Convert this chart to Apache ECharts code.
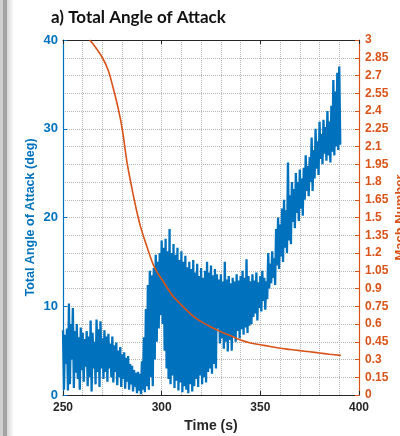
<!DOCTYPE html>
<html>
<head>
<meta charset="utf-8">
<script src="https://cdn.jsdelivr.net/npm/echarts@6/dist/echarts.min.js"></script>
<style>
html,body{margin:0;padding:0;background:#fff;}
#chart{width:400px;height:436px;}
</style>
</head>
<body>
<div id="chart"></div>
<script>
// Total angle of attack (deg): upper / lower swing per second, starting at t = 250 s
const aoaStart = 250;
const aoaHigh = [
  7.3, 6.8, 7.5, 10.3, 8.0, 9.8, 7.2, 8.0, 6.5, 7.6,
  7.0, 6.3, 7.2, 6.6, 8.4, 7.0, 6.0, 8.5, 7.4, 8.3,
  6.4, 7.3, 6.6, 6.9, 5.8, 6.6, 5.6, 5.9, 5.0, 5.4,
  4.6, 4.8, 4.2, 4.4, 3.5, 3.3, 2.8, 2.5, 2.6, 2.4,
  3.8, 6.5, 9.7, 12.4, 14.0, 13.5, 14.3, 15.8, 15.0, 16.0,
  17.4, 16.6, 17.6, 16.2, 18.7, 16.0, 17.0, 15.8, 16.6, 15.2,
  16.2, 15.0, 15.7, 14.4, 15.0, 14.2, 15.2, 13.8, 14.8, 13.4,
  14.3, 13.2, 14.0, 15.0, 13.8, 14.6, 13.5, 14.2, 13.6, 13.0,
  13.6, 12.8, 15.0, 13.0, 13.4, 12.6, 13.2, 12.8, 13.6, 12.9,
  13.4, 14.0, 13.2, 15.3, 13.4, 12.8, 13.6, 12.9, 13.8, 12.7,
  13.4, 14.0, 13.2, 12.8, 16.0, 14.8, 16.2, 15.4, 18.7, 20.0,
  19.2, 21.0, 22.0, 20.8, 26.2, 22.5, 24.0, 23.2, 25.0, 24.0,
  25.4, 24.4, 25.6, 27.0, 25.8, 26.8, 29.0, 27.6, 30.0, 28.6,
  30.8, 29.4, 31.0, 30.2, 32.0, 30.8, 32.6, 35.5, 34.2, 36.3,
  37.0
];
const aoaLow = [
  0.6, 3.5, 0.5, 1.2, 4.0, 0.8, 2.5, 1.8, 0.6, 2.8,
  1.5, 3.2, 1.0, 2.0, 0.4, 3.0, 1.2, 2.6, 0.9, 3.0,
  1.8, 2.6, 1.5, 3.0, 2.0, 1.4, 2.6, 1.1, 2.0, 0.9,
  1.8, 0.7, 1.5, 0.6, 1.2, 0.4, 0.9, 0.2, 0.5, 0.1,
  0.6, 0.3, 1.0, 0.6, 2.0, 1.0, 4.0, 6.0, 7.5, 9.0,
  8.0, 5.0, 3.0, 1.8, 1.2, 2.2, 0.8, 1.6, 0.5, 1.4,
  0.3, 1.0, 0.6, 0.2, 1.2, 0.4, 1.0, 1.8, 0.9, 2.2,
  1.2, 2.0, 1.4, 2.6, 3.0, 2.4, 3.5, 3.0, 7.5, 5.8,
  6.4, 5.2, 6.0, 4.9, 6.2, 5.0, 6.6, 6.0, 7.2, 6.4,
  7.4, 6.8, 7.6, 7.0, 7.8, 8.0, 8.8, 9.2, 8.4, 9.8,
  9.4, 10.6, 9.6, 10.8, 12.0, 12.6, 13.2, 12.4, 14.6, 14.2,
  15.6, 15.0, 16.6, 16.0, 17.4, 17.0, 19.5, 18.8, 20.5, 19.6,
  21.0, 20.2, 22.0, 23.0, 22.4, 24.0, 23.0, 24.4, 25.5, 24.8,
  26.6, 26.0, 27.2, 26.4, 27.0, 26.2, 27.4, 27.0, 28.0, 27.6,
  28.2
];
// Mach number
const machTime = [263.5, 266, 270, 273, 275.5, 278, 280, 282.5, 285, 287, 289, 291, 293, 295.5, 298, 300, 303, 306, 310, 315, 320, 325, 330, 335, 340, 345, 350, 355, 360, 365, 370, 375, 380, 385, 390.8];
const machValue = [3.0, 2.95, 2.85, 2.74, 2.59, 2.42, 2.25, 1.96, 1.74, 1.58, 1.44, 1.33, 1.23, 1.11, 1.03, 0.98, 0.9, 0.83, 0.76, 0.68, 0.62, 0.575, 0.535, 0.5, 0.465, 0.44, 0.425, 0.41, 0.395, 0.385, 0.375, 0.365, 0.355, 0.345, 0.335];
// tick labels
const timeTicks = ['250', '300', '350', '400'];
const aoaTicks = ['0', '10', '20', '30', '40'];
const machTicks = ['0', '0.15', '0.3', '0.45', '0.6', '0.75', '0.9', '1.05', '1.2', '1.35', '1.5', '1.65', '1.8', '1.95', '2.1', '2.25', '2.4', '2.55', '2.7', '2.85', '3'];

const BLUE = '#0072BD', ORANGE = '#D95319', DARK = '#262626', GRID = '#b4b4b4';
const FONT = 'Liberation Sans';

const aoaData = [];
for (let i = 0; i < aoaHigh.length; i++) {
  aoaData.push([aoaStart + i, aoaHigh[i]]);
  aoaData.push([aoaStart + i + 0.5, aoaLow[i]]);
}
const machData = machTime.map((t, i) => [t, machValue[i]]);

const chart = echarts.init(document.getElementById('chart'), null, {renderer: 'canvas'});
chart.setOption({
  animation: false,
  backgroundColor: '#ffffff',
  title: {
    text: 'a) Total Angle of Attack',
    left: 46, top: 4,
    textStyle: {fontFamily: 'Lato', fontWeight: 'bold', fontSize: 17, color: '#111'}
  },
  graphic: [
    {type: 'rect', left: 0, top: 0, shape: {width: 3, height: 436}, style: {fill: '#cfcfcf'}, silent: true},
    {type: 'rect', left: 3, top: 0, shape: {width: 4, height: 436}, style: {fill: '#a3a3a3'}, silent: true},
    {type: 'rect', left: 7, top: 0, shape: {width: 7, height: 436}, silent: true,
      style: {fill: new echarts.graphic.LinearGradient(0, 0, 1, 0, [{offset: 0, color: '#d6d6d6'}, {offset: 1, color: '#ffffff'}])}}
  ],
  grid: {left: 63, right: 41, top: 40, bottom: 41, containLabel: false, outerBoundsMode: 'none'},
  xAxis: [
    {
      type: 'value', min: 250, max: 400, interval: 50, position: 'bottom',
      axisLine: {show: true, onZero: false, lineStyle: {color: DARK, width: 1}},
      axisTick: {show: true, inside: true, length: 4, lineStyle: {color: DARK}},
      axisLabel: {color: DARK, fontSize: 12, fontWeight: 'bold', fontFamily: FONT, margin: 7,
        formatter: v => timeTicks[Math.round((v - 250) / 50)]},
      splitLine: {show: true, lineStyle: {type: 'dotted', color: GRID, width: 1}},
      minorTick: {show: false, splitNumber: 5},
      minorSplitLine: {show: true, lineStyle: {type: 'dotted', color: GRID, width: 1}},
      name: 'Time (s)', nameLocation: 'middle', nameGap: 24, nameMoveOverlap: false,
      nameTextStyle: {color: DARK, fontSize: 14, fontWeight: 'bold', fontFamily: FONT}
    },
    {
      type: 'value', min: 250, max: 400, interval: 50, position: 'top',
      axisLine: {show: true, onZero: false, lineStyle: {color: DARK, width: 1}},
      axisTick: {show: true, inside: true, length: 4, lineStyle: {color: DARK}},
      axisLabel: {show: false}, splitLine: {show: false}
    }
  ],
  yAxis: [
    {
      type: 'value', min: 0, max: 40, interval: 10, position: 'left',
      axisLine: {show: true, onZero: false, lineStyle: {color: BLUE, width: 1.2}},
      axisTick: {show: true, inside: true, length: 4, lineStyle: {color: BLUE}},
      axisLabel: {color: BLUE, fontSize: 13, fontWeight: 'bold', fontFamily: FONT, margin: 5,
        formatter: v => aoaTicks[Math.round(v / 10)]},
      splitLine: {show: false},
      name: 'Total Angle of Attack (deg)', nameLocation: 'middle', nameGap: 26, nameMoveOverlap: false,
      nameTextStyle: {color: BLUE, fontSize: 12.5, fontWeight: 'bold', fontFamily: FONT}
    },
    {
      type: 'value', min: 0, max: 3, interval: 0.15, position: 'right',
      axisLine: {show: true, onZero: false, lineStyle: {color: ORANGE, width: 1.2}},
      axisTick: {show: true, inside: true, length: 4, lineStyle: {color: ORANGE}},
      axisLabel: {color: ORANGE, fontSize: 12, fontWeight: 'bold', fontFamily: FONT, margin: 6,
        formatter: v => machTicks[Math.round(v / 0.15)]},
      splitLine: {show: true, lineStyle: {type: 'dotted', color: GRID, width: 1}},
      name: 'Mach Number', nameLocation: 'middle', nameGap: 35, nameRotate: 90, nameMoveOverlap: false,
      nameTextStyle: {color: ORANGE, fontSize: 13, fontWeight: 'bold', fontFamily: FONT}
    }
  ],
  series: [
    {
      name: 'AoA', type: 'line', xAxisIndex: 0, yAxisIndex: 0, data: aoaData,
      showSymbol: false, symbol: 'none', clip: true,
      lineStyle: {color: BLUE, width: 2.3}, z: 2
    },
    {
      name: 'Mach', type: 'line', xAxisIndex: 0, yAxisIndex: 1, data: machData,
      showSymbol: false, symbol: 'none', smooth: 0.3, clip: true,
      lineStyle: {color: ORANGE, width: 1.6}, z: 3
    }
  ]
});
</script>
</body>
</html>
